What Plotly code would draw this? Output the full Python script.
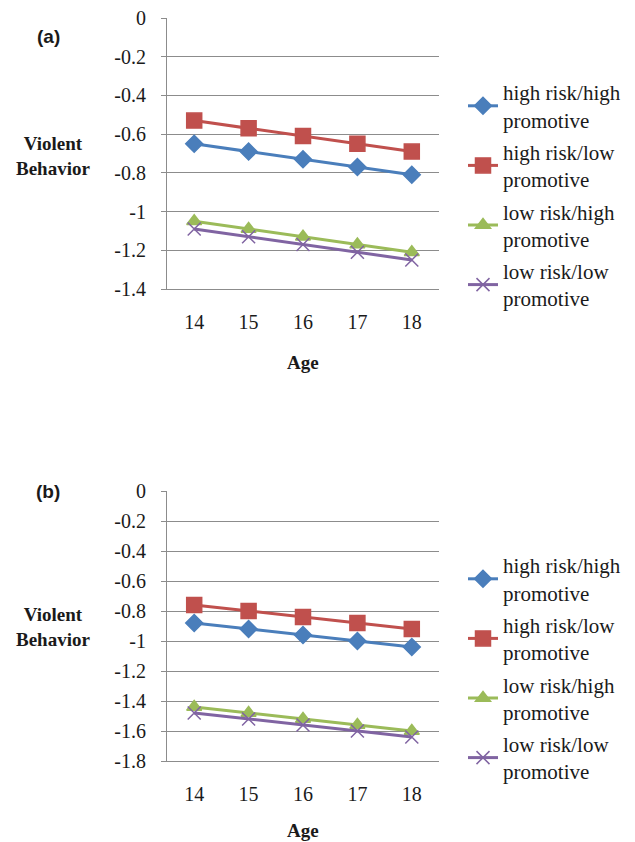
import plotly.graph_objects as go

ages = [14, 15, 16, 17, 18]
series_names = ["high risk/high<br>promotive", "high risk/low<br>promotive",
                "low risk/high<br>promotive", "low risk/low<br>promotive"]

a_high_high = [-0.65, -0.69, -0.73, -0.77, -0.81]
a_high_low = [-0.53, -0.57, -0.61, -0.65, -0.69]
a_low_high = [-1.05, -1.09, -1.13, -1.17, -1.21]
a_low_low = [-1.09, -1.13, -1.17, -1.21, -1.25]

b_high_high = [-0.88, -0.92, -0.96, -1.00, -1.04]
b_high_low = [-0.76, -0.80, -0.84, -0.88, -0.92]
b_low_high = [-1.44, -1.48, -1.52, -1.56, -1.60]
b_low_low = [-1.48, -1.52, -1.56, -1.60, -1.64]

a_yticks = [0, -0.2, -0.4, -0.6, -0.8, -1, -1.2, -1.4]
b_yticks = [0, -0.2, -0.4, -0.6, -0.8, -1, -1.2, -1.4, -1.6, -1.8]

colors = ["#4A7EBB", "#C0504D", "#9BBB59", "#8064A2"]
symbols = ["diamond", "square", "triangle-up", "x-thin"]
msizes = [13, 15, 13, 13]

# page offset from the default body margin
OFF = 8
W, H = 627, 834


def px(x):
    return (x - OFF) / W


def py(y):
    return 1 - (y - OFF) / H


SERIF = "Liberation Serif"
TXT = "#1a1a1a"

fig = go.Figure()

panels = [
    ("x", "y", "legend", [a_high_high, a_high_low, a_low_high, a_low_low]),
    ("x2", "y2", "legend2", [b_high_high, b_high_low, b_low_high, b_low_low]),
]
for xa, ya, lg, data in panels:
    for i, vals in enumerate(data):
        fig.add_trace(go.Scatter(
            x=ages, y=vals, xaxis=xa, yaxis=ya, legend=lg,
            name=series_names[i], legendgroup=f"{lg}_{i}",
            mode="lines+markers",
            line=dict(color=colors[i], width=3),
            marker=dict(symbol=symbols[i], size=msizes[i], color=colors[i],
                        line=dict(color=colors[i], width=1.5)),
        ))

axis_common = dict(
    showline=True, linecolor="#8C8C8C", linewidth=1.2,
    tickfont=dict(family=SERIF, size=20, color=TXT),
    ticklabeloverflow="allow",
)

xa_common = dict(range=[13.5, 18.5], tickvals=ages, showgrid=False, ticks="",
                 ticklabelstandoff=15, **axis_common)
ya_common = dict(showgrid=True, gridcolor="#8C8C8C", gridwidth=1.2,
                 zeroline=False, ticks="outside", ticklen=5, tickcolor="#8C8C8C",
                 ticklabelstandoff=11, **axis_common)

legend_common = dict(xanchor="left", yanchor="top",
                     font=dict(family=SERIF, size=21, color=TXT),
                     bgcolor="rgba(0,0,0,0)", tracegroupgap=2, itemwidth=30)

fig.update_layout(
    width=W, height=H,
    margin=dict(l=0, r=0, t=0, b=0, autoexpand=False),
    paper_bgcolor="white", plot_bgcolor="white",
    showlegend=True,
    xaxis=dict(domain=[px(167), px(439)], anchor="y", **xa_common),
    yaxis=dict(domain=[py(289), py(18)], range=[-1.4, 0], tickvals=a_yticks,
               ticktext=[f"{v:g}" for v in a_yticks], anchor="x", **ya_common),
    xaxis2=dict(domain=[px(167), px(439)], anchor="y2", **xa_common),
    yaxis2=dict(domain=[py(761), py(491)], range=[-1.8, 0], tickvals=b_yticks,
                ticktext=[f"{v:g}" for v in b_yticks], anchor="x2", **ya_common),
    legend=dict(x=px(463), y=py(72), **legend_common),
    legend2=dict(x=px(463), y=py(545), **legend_common),
)

ann_common = dict(xref="paper", yref="paper", showarrow=False,
                  xanchor="center", yanchor="middle")
for lbl, yc in (("(a)", 36), ("(b)", 492)):
    fig.add_annotation(text=f"<b>{lbl}</b>", x=px(48), y=py(yc),
                       font=dict(family="Liberation Sans", size=19, color=TXT),
                       **ann_common)
for yc in (156, 627):
    fig.add_annotation(text="<b>Violent<br>Behavior</b>", x=px(53), y=py(yc),
                       font=dict(family=SERIF, size=19, color=TXT),
                       **ann_common)
for yc in (362, 830):
    fig.add_annotation(text="<b>Age</b>", x=px(303), y=py(yc),
                       font=dict(family=SERIF, size=19, color=TXT),
                       **ann_common)

fig.write_html("out.html")
